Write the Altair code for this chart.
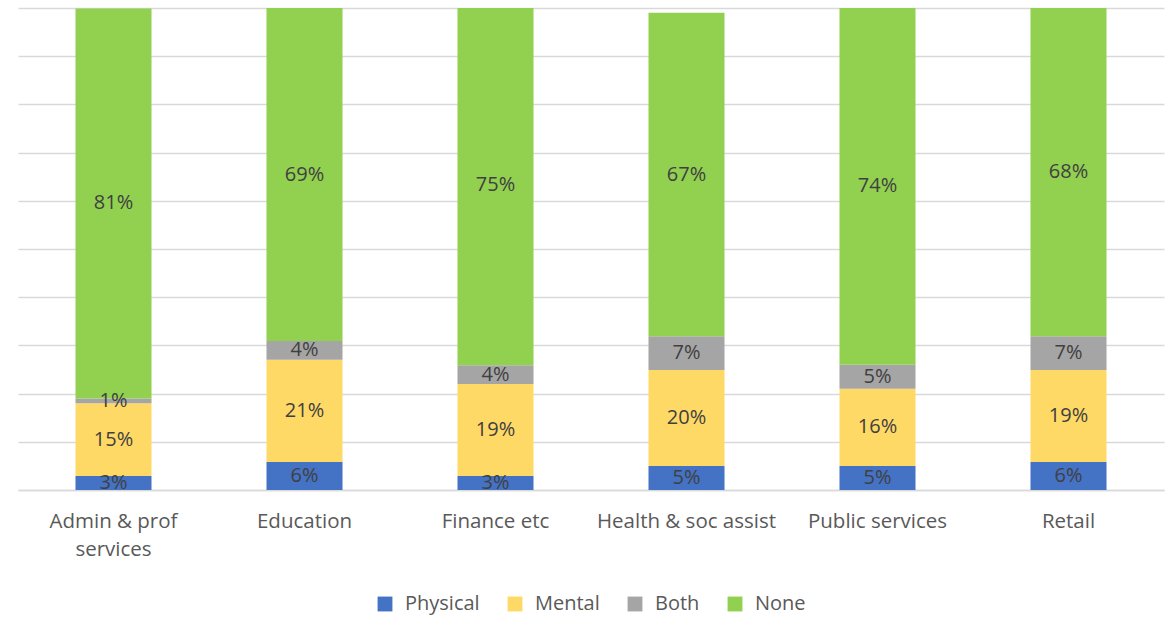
import altair as alt
import pandas as pd

categories = ["Admin & prof services", "Education", "Finance etc",
              "Health & soc assist", "Public services", "Retail"]
series = ["Physical", "Mental", "Both", "None"]
physical = [2.9, 5.8, 2.9, 5.0, 5.0, 5.8]
mental = [15.1, 21.2, 19.1, 19.9, 16.0, 19.1]
both = [1.0, 3.9, 3.9, 7.0, 5.0, 7.0]
none_ = [80.9, 69.1, 74.6, 67.1, 74.0, 68.1]
colors = ["#4472C4", "#FFD966", "#A5A5A5", "#92D050"]

rows = []
for i, c in enumerate(categories):
    for j, (s, vals) in enumerate(zip(series, [physical, mental, both, none_])):
        rows.append({"category": c, "series": s, "order": j, "value": vals[i]})
df = pd.DataFrame(rows)

FONT = "Open Sans"

base = alt.Chart(df).transform_stack(
    stack="value", groupby=["category"], as_=["y0", "y1"],
    sort=[alt.SortField("order", order="ascending")]
).transform_calculate(
    ymid="(datum.y0 + datum.y1) / 2",
    label="format(datum.value, '.0f') + '%'"
)

x_enc = alt.X("category:N", sort=categories, title=None,
              scale=alt.Scale(paddingInner=0.602, paddingOuter=0.301),
              axis=alt.Axis(labelAngle=0, labelFontSize=20.5, labelColor="#595959",
                            labelFont=FONT, ticks=False, domain=True,
                            domainColor="#D9D9D9", domainWidth=1.5,
                            labelPadding=21, labelLineHeight=28, labelLimit=400,
                            labelExpr="datum.label == 'Admin & prof services' ? ['Admin & prof', 'services'] : datum.label"))

bars = base.mark_bar(clip=True).encode(
    x=x_enc,
    y=alt.Y("y0:Q", scale=alt.Scale(domain=[0, 100], nice=False),
            axis=alt.Axis(values=list(range(0, 101, 10)), labels=False, ticks=False,
                          domain=False, grid=True, gridColor="#D9D9D9", gridWidth=1.5),
            title=None),
    y2="y1:Q",
    color=alt.Color("series:N", sort=series,
                    scale=alt.Scale(domain=series, range=colors),
                    legend=alt.Legend(title=None, orient="none", direction="horizontal",
                                      legendX=357, legendY=586,
                                      symbolType="square", symbolSize=220,
                                      symbolStrokeWidth=0, labelFontSize=20,
                                      labelFont=FONT, labelColor="#595959",
                                      labelOffset=10, columnPadding=25)),
    order=alt.Order("order:Q")
)

texts = base.mark_text(fontSize=20, font=FONT, color="#404040", baseline="middle").encode(
    x=alt.X("category:N", sort=categories),
    y=alt.Y("ymid:Q"),
    text="label:N"
)

chart = alt.layer(bars, texts).properties(
    width=1146, height=482,
    autosize=alt.AutoSizeParams(type="none"),
    padding={"left": 18, "top": 8, "right": 2, "bottom": 127}
).configure_view(stroke=None)

chart.save("out.html", embed_options={"renderer": "svg", "actions": False})
